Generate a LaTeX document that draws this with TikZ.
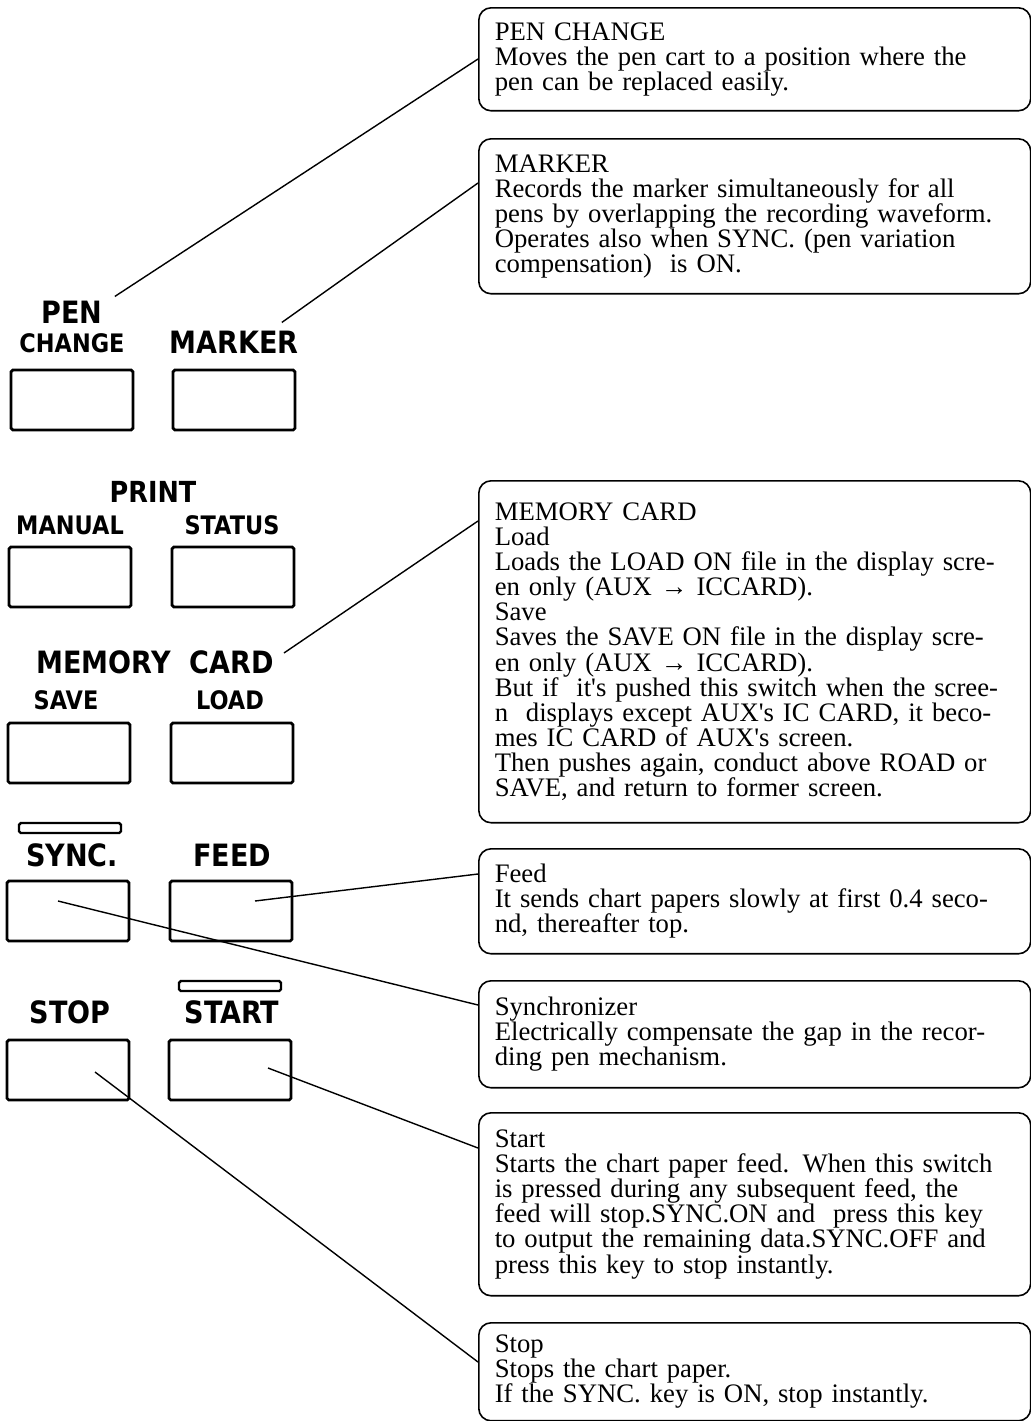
\documentclass[tikz,border=0pt]{standalone}
\usepackage{fontspec}
\setmainfont{Liberation Serif}
\newfontfamily\keyfont{DejaVu Sans}
\usetikzlibrary{calc}

\newcommand\bigkey{\keyfont\bfseries\fontsize{17.5}{18}\selectfont}
\newcommand\midkey{\keyfont\bfseries\fontsize{16.5}{17}\selectfont}
\newcommand\smallkey{\keyfont\bfseries\fontsize{14.5}{15}\selectfont}
\newcommand\notesize{\fontsize{15.2}{14.3}\selectfont}
\newcommand\narrow[1]{\scalebox{0.88}[1]{#1}}
\newcommand\apos{\textquotesingle}

\begin{document}
\begin{tikzpicture}[x=0.02cm,y=-0.02cm,
        key/.style={draw,line width=1.6pt,rounded corners=1pt,minimum width=2.44cm,
                    minimum height=1.2cm,inner sep=0pt},
        keylabel/.style={inner sep=0pt},
        lamp/.style={draw,line width=1.4pt,rounded corners=1pt,minimum width=2.04cm,
                     minimum height=0.2cm,inner sep=0pt},
        note/.style={draw,line width=0.9pt,rounded corners=7pt,anchor=north west,align=left,
                     text width=10.4cm,inner xsep=0.32cm,inner ysep=0pt,font=\notesize,
                     minimum height=#1},
        leader/.style={line width=0.8pt}]
        \useasboundingbox (0,0) rectangle (1031,1421);

        % panel keys
        \node[keylabel,font=\bigkey]   (pen)    at (72,312)   {\narrow{PEN}};
        \node[keylabel,font=\smallkey] (change) at (72,343)   {\narrow{CHANGE}};
        \node[keylabel,font=\bigkey]   (marker) at (234,342)  {\narrow{MARKER}};
        \node[key] (pcbtn) at (72,400) {};
        \node[key] (mkbtn) at (234,400) {};

        \node[keylabel,font=\midkey]   (print)  at (153,492)  {\narrow{PRINT}};
        \node[keylabel,font=\smallkey] (manual) at (70,525)   {\narrow{MANUAL}};
        \node[keylabel,font=\smallkey] (status) at (232,525)  {\narrow{STATUS}};
        \node[key] (manbtn) at (70,577) {};
        \node[key] (stabtn) at (233,577) {};

        \node[keylabel,font=\bigkey]   (memory) at (155,662)  {\narrow{MEMORY\ \ CARD}};
        \node[keylabel,font=\smallkey] (save)   at (66,700)   {\narrow{SAVE}};
        \node[keylabel,font=\smallkey] (load)   at (230,700)  {\narrow{LOAD}};
        \node[key] (savbtn) at (69,753) {};
        \node[key] (ldbtn)  at (232,753) {};

        \node[lamp] (synlamp) at (70,828) {};
        \node[keylabel,font=\bigkey]   (sync)   at (72,855)   {\narrow{SYNC.}};
        \node[keylabel,font=\bigkey]   (feed)   at (232,855)  {\narrow{FEED}};
        \node[key] (synbtn) at (68,911) {};
        \node[key] (fdbtn)  at (231,911) {};

        \node[lamp] (stlamp) at (230,986) {};
        \node[keylabel,font=\bigkey]   (stop)   at (70,1012)  {\narrow{STOP}};
        \node[keylabel,font=\bigkey]   (start)  at (232,1012) {\narrow{START}};
        \node[key] (spbtn) at (68,1070) {};
        \node[key] (stbtn) at (230,1070) {};

        % notes
        \node[note=2.06cm] (pcbox) at (478,7)    {PEN CHANGE\\Moves the pen cart to a position where the\\pen can be replaced easily.};
        \node[note=3.1cm]  (mkbox) at (478,138)  {MARKER\\Records the marker simultaneously for all\\pens by overlapping the recording waveform.\\Operates also when SYNC.~(pen variation\\compensation)~ is ON.};
        \node[note=6.84cm] (mcbox) at (478,480)  {MEMORY CARD\\Load\\Loads the LOAD ON file in the display scre-\\en only~(AUX → ICCARD).\\Save\\Saves the SAVE ON file in the display scre-\\en only~(AUX → ICCARD).\\But if~ it\apos s pushed this switch when the scree-\\n~ displays except AUX\apos s IC CARD, it beco-\\mes IC CARD of AUX\apos s screen.\\Then pushes again, conduct above ROAD or\\SAVE, and return to former screen.};
        \node[note=2.1cm]  (fdbox) at (478,848)  {Feed\\It sends chart papers slowly at first 0.4 seco-\\nd, thereafter top.};
        \node[note=2.14cm] (sybox) at (478,980)  {Synchronizer\\Electrically compensate the gap in the recor-\\ding pen mechanism.};
        \node[note=3.66cm] (stbox) at (478,1112) {Start\\Starts the chart paper feed. When this switch\\is pressed during any subsequent feed, the\\feed will stop.SYNC.ON and~ press this key\\to output the remaining data.SYNC.OFF and\\press this key to stop instantly.};
        \node[note=1.96cm] (spbox) at (478,1322) {Stop\\Stops the chart paper.\\If the SYNC. key is ON, stop instantly.};

        % leaders
        \draw[leader] ($(pen.north east)+(12,-4)$) -- ($(pcbox.north west)+(0,52)$);
        \draw[leader] ($(marker.north east)+(-17,-8)$) -- ($(mkbox.north west)+(0,45)$);
        \draw[leader] ($(memory.east)+(10,-9)$) -- ($(mcbox.north west)+(0,41)$);
        \draw[leader] ($(fdbtn.center)+(24,-10)$) -- ($(fdbox.north west)+(0,26)$);
        \draw[leader] ($(synbtn.center)+(-10,-10)$) -- ($(sybox.north west)+(0,25)$);
        \draw[leader] ($(stbtn.center)+(38,-2)$) -- ($(stbox.north west)+(0,36)$);
        \draw[leader] ($(spbtn.center)+(27,2)$) -- ($(spbox.north west)+(0,40)$);
\end{tikzpicture}
\end{document}
